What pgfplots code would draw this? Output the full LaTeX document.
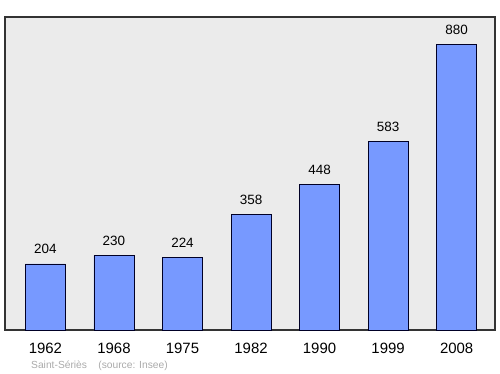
\documentclass[border=0pt]{standalone}
\usepackage{pgfplots}
\pgfplotsset{compat=1.18}
\usepackage{fontspec}
\setmainfont{Liberation Sans}
\definecolor{bgc}{RGB}{235,235,235}
\definecolor{barc}{RGB}{119,153,255}
\definecolor{srcc}{RGB}{170,170,170}
\begin{document}
\begin{tikzpicture}
\useasboundingbox (-5bp,-44bp) rectangle (495bp,330bp);
\begin{axis}[
  at={(0,0)}, anchor=south west,
  scale only axis, width=490bp, height=313bp,
  xmin=-0.59, xmax=6.56, ymin=0, ymax=966,
  axis background/.style={fill=bgc},
  axis line style={draw=black!80, line width=1.2pt},
  ytick=\empty,
  xtick=data,
  xticklabels={1962,1968,1975,1982,1990,1999,2008},
  major tick length=0pt,
  xticklabel style={inner sep=0pt, anchor=base, yshift=-23bp, font=\fontsize{15}{15}\selectfont},
  /pgf/number format/assume math mode=true,
  ybar, bar width=40bp, bar shift=0pt,
  nodes near coords,
  every node near coord/.style={inner sep=0pt, anchor=base, yshift=10bp, font=\fontsize{13.5}{13.5}\selectfont, text=black},
  clip=false,
]
\addplot[fill=barc, draw=black!85!blue, line width=0.8pt] coordinates {
(0,204) (1,230) (2,224) (3,358) (4,448) (5,583) (6,880)};
\end{axis}
\node[anchor=base west, inner sep=0pt, text=srcc, font=\fontsize{10.3}{10.3}\selectfont] at (26bp,-38bp) {Saint-Sériès\hspace{1.1em}(source: Insee)};
\end{tikzpicture}
\end{document}
